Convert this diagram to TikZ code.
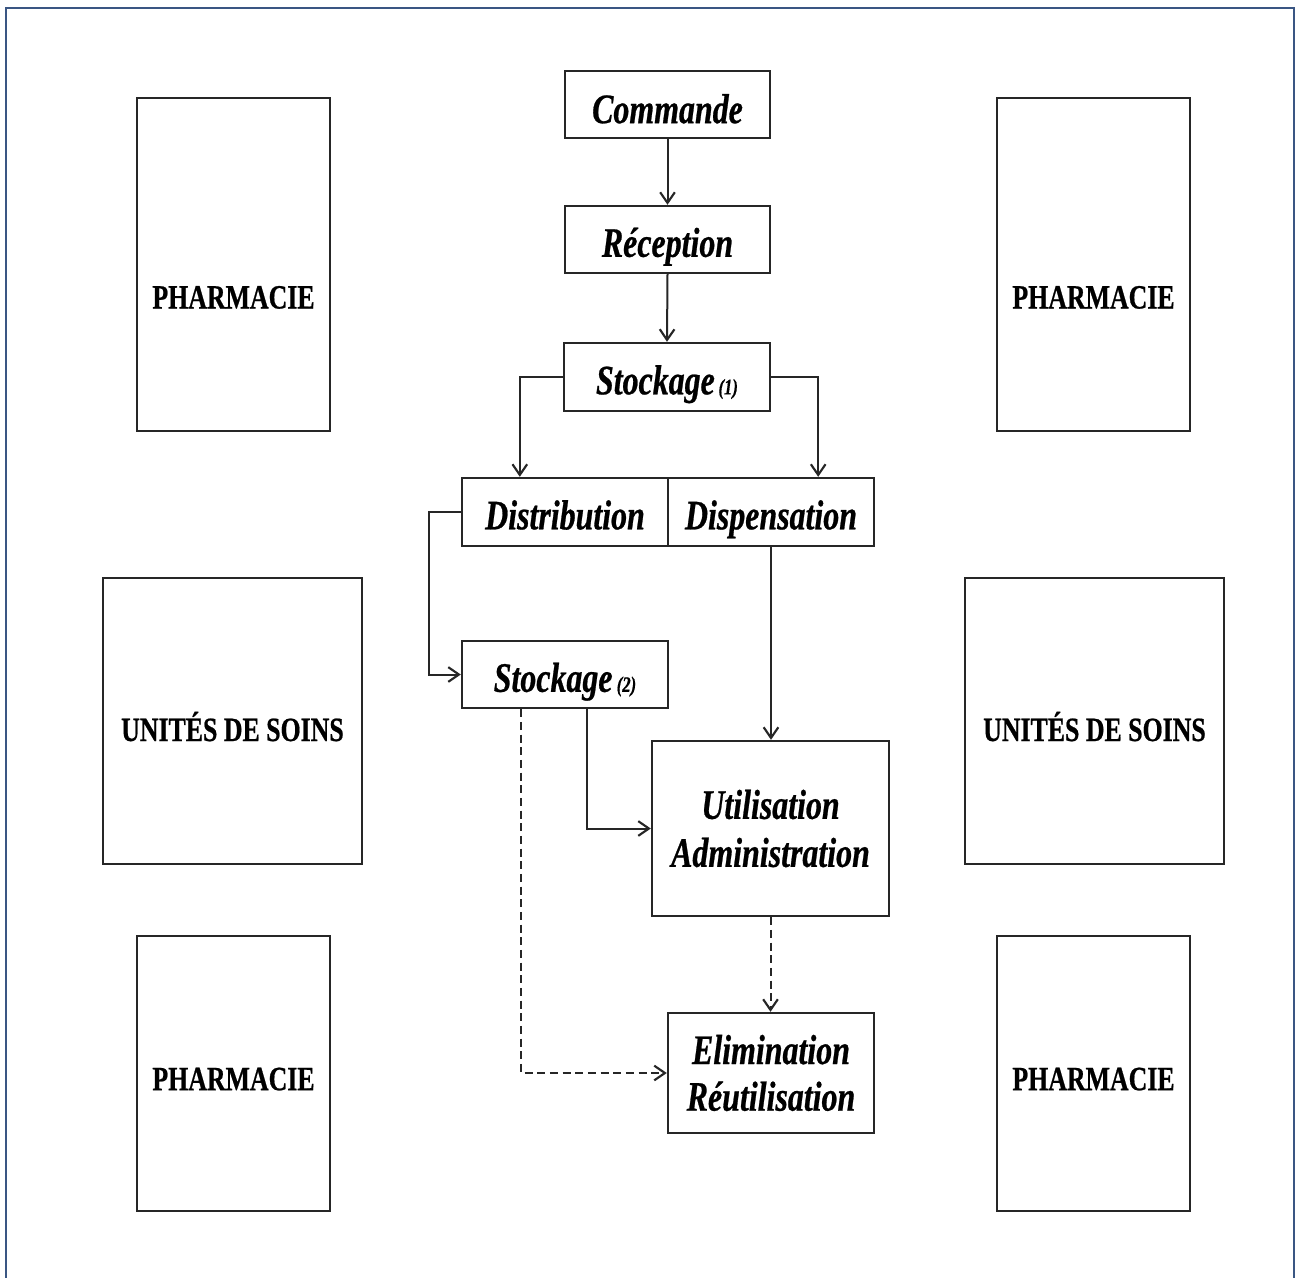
\documentclass[tikz,border=0pt]{standalone}
\usepackage{fontspec}
\newfontfamily\tnr[FakeStretch=0.76,FakeBold=0.6]{Liberation Serif}
\usetikzlibrary{arrows.meta}
\definecolor{frameblue}{HTML}{3A5683}
\tikzset{
  box/.style={draw=black!85, line width=1.8pt, fill=white, inner sep=0pt, align=center},
  sidebox/.style={box, line width=1.9pt, font=\tnr\bfseries\fontsize{25.5}{28}\selectfont, text depth=0pt},
  stepbox/.style={box, font=\tnr\bfseries\itshape\fontsize{31.5}{36}\selectfont},
  onebox/.style={stepbox, text height=26pt, text depth=0pt},
  conn/.style={draw=black!85, line width=1.5pt, -{Straight Barb[length=8pt,width=11pt,line width=1.6pt]}},
  dconn/.style={conn, dash pattern=on 6pt off 3.5pt}
}
\newcommand{\smallnum}[2][\,]{{\fontsize{16.5}{18}\selectfont#1#2}}
\begin{document}
\begin{tikzpicture}[x=0.75pt,y=-0.75pt]
\useasboundingbox (0,0) rectangle (1296,1278);
\fill[white] (0,0) rectangle (1296,1278);
\draw[frameblue, line width=1.6pt] (6,1282) -- (6,8) -- (1294,8) -- (1294,1282);

% side boxes
\node[sidebox, text height=66pt, minimum width=144.75pt, minimum height=249.75pt] (phtl) at (233.5,264.5) {PHARMACIE};
\node[sidebox, text height=66pt, minimum width=144.75pt, minimum height=249.75pt] (phtr) at (1093.5,264.5) {PHARMACIE};
\node[sidebox, text height=30pt, minimum width=194.25pt, minimum height=214.5pt] (udsl) at (232.5,721) {UNITÉS DE SOINS};
\node[sidebox, text height=30pt, minimum width=194.25pt, minimum height=214.5pt] (udsr) at (1094.5,721) {UNITÉS DE SOINS};
\node[sidebox, text height=25pt, minimum width=144.75pt, minimum height=206.25pt] (phbl) at (233.5,1073.5) {PHARMACIE};
\node[sidebox, text height=25pt, minimum width=144.75pt, minimum height=206.25pt] (phbr) at (1093.5,1073.5) {PHARMACIE};

% flow boxes
\node[onebox, text height=28pt, minimum width=153.75pt, minimum height=50.25pt] (cmd) at (667.5,104.5) {Commande};
\node[onebox, minimum width=153.75pt, minimum height=50.25pt] (rec) at (667.5,239.5) {Réception};
\node[onebox, minimum width=154.5pt, minimum height=51pt] (s1) at (667,377) {Stockage\smallnum{(1)}};
\node[onebox, minimum width=154.5pt, minimum height=51pt] (dist) at (565,512) {Distribution};
\node[onebox, minimum width=154.5pt, minimum height=51pt] (disp) at (771,512) {Dispensation};
\node[onebox, minimum width=154.5pt, minimum height=50.25pt] (s2) at (565,674.5) {Stockage\smallnum[\ ]{(2)}};
\node[stepbox, minimum width=177.75pt, minimum height=131.25pt] (util) at (770.5,828.5) {\rule{0pt}{15pt}Utilisation\\[0pt]Administration};
\node[stepbox, minimum width=154.5pt, minimum height=90pt] (elim) at (771,1073) {\rule{0pt}{12pt}Elimination\\[-1pt]Réutilisation};

% connectors
\draw[conn] (cmd.south) -- (rec.north);
\draw[conn] (rec.south) -- (s1.north);
\draw[conn] (s1.west) -| ([xshift=44.25pt]dist.north west);
\draw[conn] (s1.east) -| ([xshift=-42.75pt]disp.north east);
\draw[conn] (dist.west) -- ++(-32,0) |- (s2.west);
\draw[conn] (disp.south) -- (disp.south |- util.north);
\draw[conn] ([xshift=16.5pt]s2.south) |- (util.west);
\draw[dconn] ([xshift=-33pt]s2.south) |- (elim.west);
\draw[dconn] (util.south) -- (util.south |- elim.north);
\end{tikzpicture}
\end{document}
